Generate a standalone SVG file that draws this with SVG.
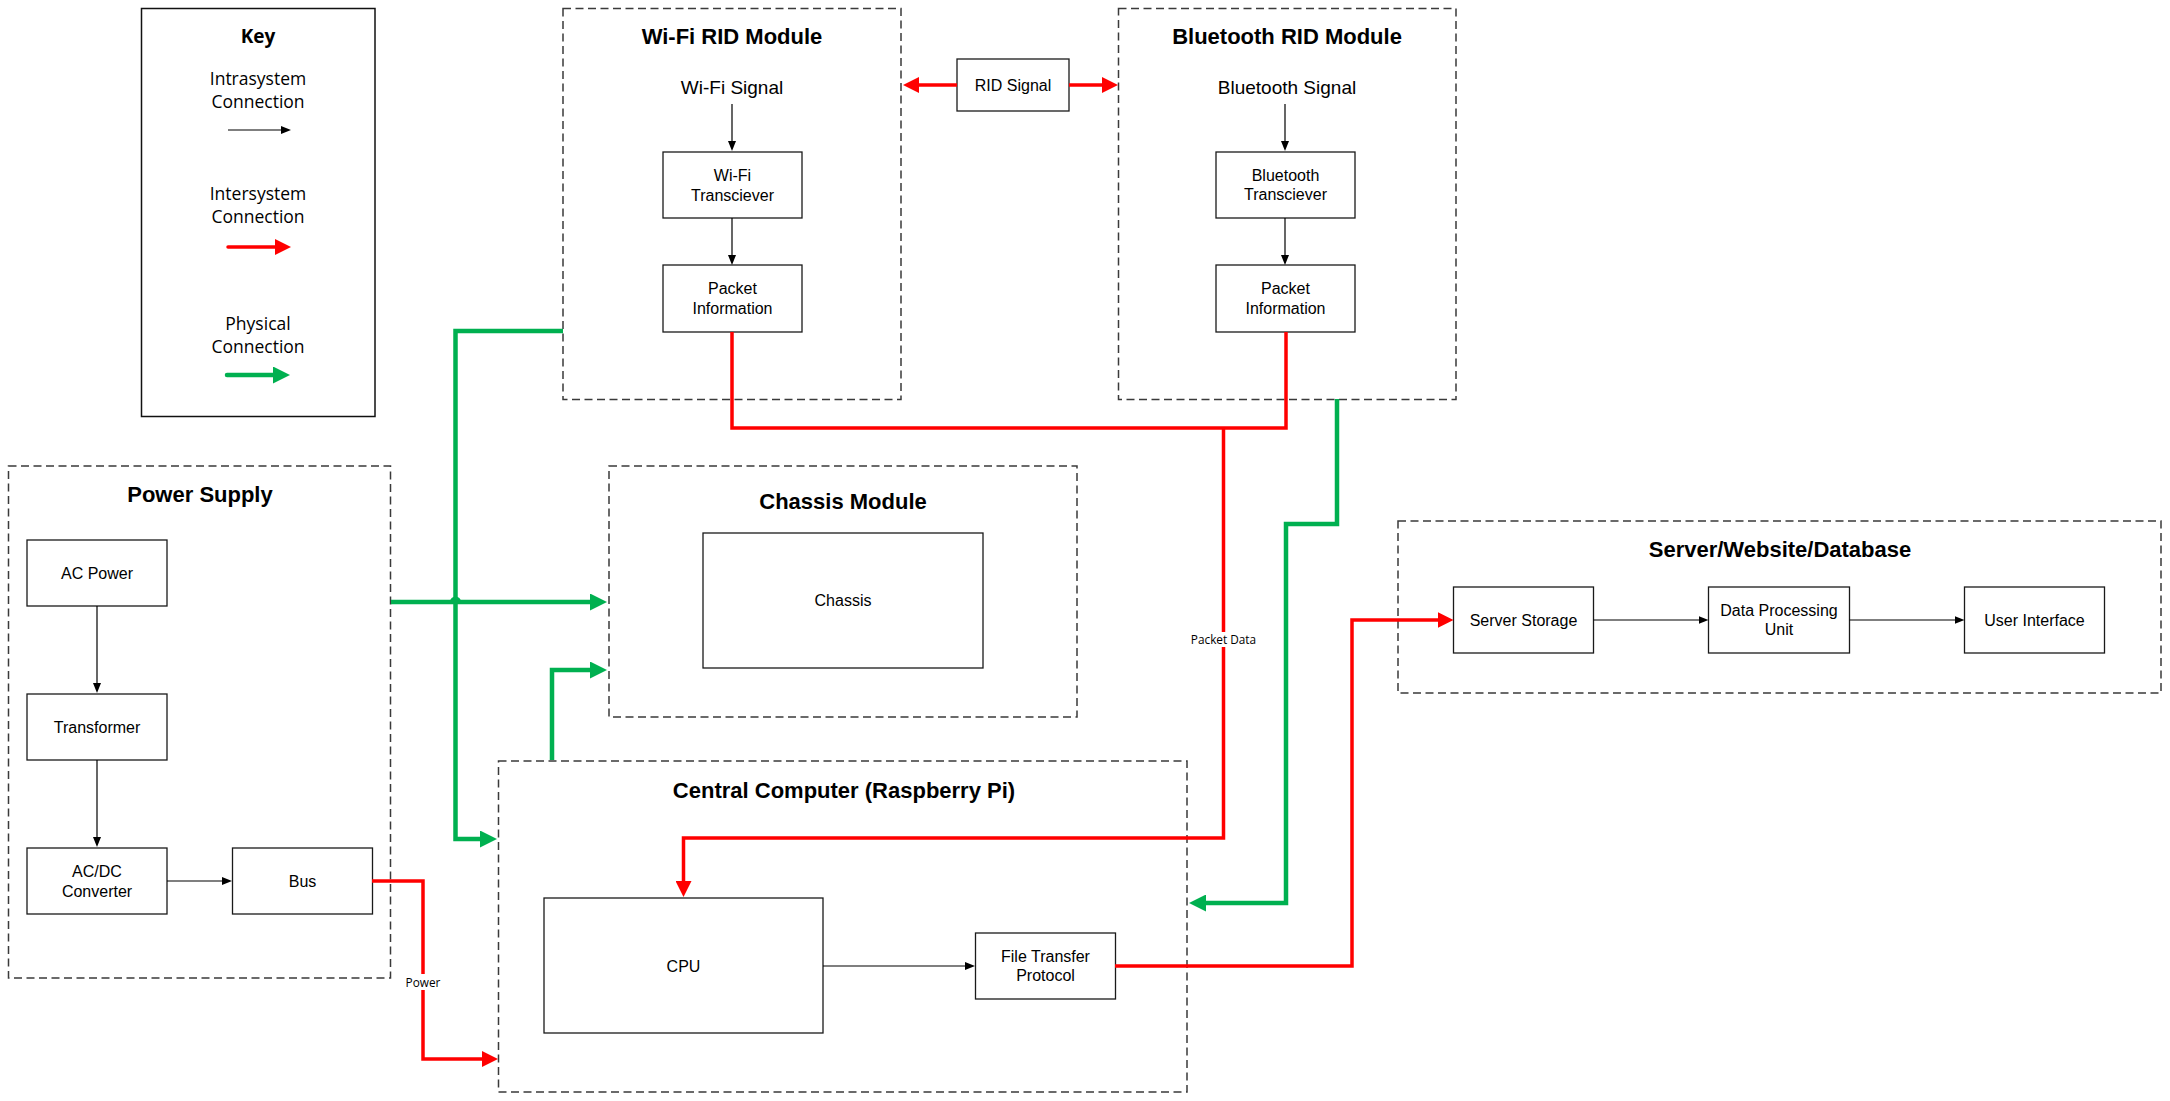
<svg xmlns="http://www.w3.org/2000/svg" width="2170" height="1101" viewBox="0 0 2170 1101">
  <style>
    text { font-family: "Liberation Sans", Arial, sans-serif; fill: #000; text-anchor: middle; dominant-baseline: central; }
    .ttl { font-size: 22px; font-weight: bold; }
    .nd { font-size: 16px; }
    .sig { font-size: 19px; }
    .kt { font-family: "Open Sans", "Noto Sans", sans-serif; font-size: 17.5px; }
    .kh { font-family: "Open Sans", "Noto Sans", sans-serif; font-size: 19px; font-weight: bold; }
    .lbl { font-family: "Open Sans", "Noto Sans", sans-serif; font-size: 11.8px; }
    .box { fill: #fff; stroke: #1a1a1a; stroke-width: 1.3; }
    .grp { fill: none; stroke: #3a3a3a; stroke-width: 1.5; stroke-dasharray: 8 4.5; }
    .blk { fill: none; stroke: #000; stroke-width: 1.2; marker-end: url(#mb); }
    .red { fill: none; stroke: #ff0000; stroke-width: 3.5; stroke-linejoin: miter; }
    .grn { fill: none; stroke: #00b050; stroke-width: 4.5; stroke-linejoin: miter; }
    .ra { marker-end: url(#mr); }
    .ga { marker-end: url(#mg); }
  </style>
  <defs>
    <marker id="mb" markerUnits="userSpaceOnUse" markerWidth="10" markerHeight="8" refX="5" refY="4" orient="auto">
      <path d="M0,0 L10,4 L0,8 z" fill="#000"/>
    </marker>
    <marker id="mr" markerUnits="userSpaceOnUse" markerWidth="16" markerHeight="16" refX="6" refY="8" orient="auto">
      <path d="M0,0 L16,8 L0,16 z" fill="#ff0000"/>
    </marker>
    <marker id="mg" markerUnits="userSpaceOnUse" markerWidth="17" markerHeight="17" refX="7" refY="8.5" orient="auto">
      <path d="M0,0 L17,8.5 L0,17 z" fill="#00b050"/>
    </marker>
  </defs>

  <rect width="2170" height="1101" fill="#fff"/>

  <!-- Legend -->
  <g id="key">
    <rect x="141.5" y="8.5" width="233.5" height="408" fill="#fff" stroke="#111" stroke-width="1.5"/>
    <text class="kh" x="258" y="36">Key</text>
    <text class="kt" x="258" y="78">Intrasystem</text>
    <text class="kt" x="258" y="101">Connection</text>
    <path class="blk" d="M228,130 H286"/>
    <text class="kt" x="258" y="193">Intersystem</text>
    <text class="kt" x="258" y="216">Connection</text>
    <path class="red ra" d="M228,247 H281" stroke-linecap="round"/>
    <text class="kt" x="258" y="323">Physical</text>
    <text class="kt" x="258" y="346">Connection</text>
    <path class="grn ga" d="M227,375 H280" stroke-linecap="round"/>
  </g>

  <!-- Wi-Fi RID Module -->
  <g id="wifi-module">
    <rect class="grp" x="563" y="8.5" width="338" height="391"/>
    <text class="ttl" x="732" y="36">Wi-Fi RID Module</text>
    <text class="sig" x="732" y="87">Wi-Fi Signal</text>
  </g>
  <g id="wifi-transceiver">
    <rect class="box" x="663" y="152" width="139" height="66"/>
    <text class="nd" x="732.5" y="175">Wi-Fi</text>
    <text class="nd" x="732.5" y="195">Transciever</text>
  </g>
  <g id="wifi-packet">
    <rect class="box" x="663" y="265" width="139" height="67"/>
    <text class="nd" x="732.5" y="288">Packet</text>
    <text class="nd" x="732.5" y="308">Information</text>
  </g>

  <!-- RID Signal -->
  <g id="rid-signal">
    <rect class="box" x="957" y="59" width="112" height="52"/>
    <text class="nd" x="1013" y="85">RID Signal</text>
  </g>

  <!-- Bluetooth RID Module -->
  <g id="bt-module">
    <rect class="grp" x="1118.5" y="8.5" width="337.5" height="391"/>
    <text class="ttl" x="1287" y="36">Bluetooth RID Module</text>
    <text class="sig" x="1287" y="87">Bluetooth Signal</text>
  </g>
  <g id="bt-transceiver">
    <rect class="box" x="1216" y="152" width="139" height="66"/>
    <text class="nd" x="1285.5" y="175">Bluetooth</text>
    <text class="nd" x="1285.5" y="194">Transciever</text>
  </g>
  <g id="bt-packet">
    <rect class="box" x="1216" y="265" width="139" height="67"/>
    <text class="nd" x="1285.5" y="288">Packet</text>
    <text class="nd" x="1285.5" y="308">Information</text>
  </g>

  <!-- Power Supply -->
  <g id="power-supply">
    <rect class="grp" x="8.5" y="466" width="382" height="512"/>
    <text class="ttl" x="200" y="494">Power Supply</text>
  </g>
  <g id="ac-power">
    <rect class="box" x="27" y="540" width="140" height="66"/>
    <text class="nd" x="97" y="573">AC Power</text>
  </g>
  <g id="transformer">
    <rect class="box" x="27" y="694" width="140" height="66"/>
    <text class="nd" x="97" y="727">Transformer</text>
  </g>
  <g id="acdc-converter">
    <rect class="box" x="27" y="848" width="140" height="66"/>
    <text class="nd" x="97" y="871">AC/DC</text>
    <text class="nd" x="97" y="891">Converter</text>
  </g>
  <g id="bus">
    <rect class="box" x="232.5" y="848" width="140" height="66"/>
    <text class="nd" x="302.5" y="881">Bus</text>
  </g>

  <!-- Chassis Module -->
  <g id="chassis-module">
    <rect class="grp" x="609" y="466" width="468" height="251"/>
    <text class="ttl" x="843" y="501">Chassis Module</text>
  </g>
  <g id="chassis">
    <rect class="box" x="703" y="533" width="280" height="135"/>
    <text class="nd" x="843" y="600">Chassis</text>
  </g>

  <!-- Central Computer -->
  <g id="central-computer">
    <rect class="grp" x="498.5" y="761" width="688.5" height="331"/>
    <text class="ttl" x="844" y="790">Central Computer (Raspberry Pi)</text>
  </g>
  <g id="cpu">
    <rect class="box" x="544" y="898" width="279" height="135"/>
    <text class="nd" x="683.5" y="966">CPU</text>
  </g>
  <g id="ftp">
    <rect class="box" x="975.5" y="933" width="140" height="66"/>
    <text class="nd" x="1045.5" y="956">File Transfer</text>
    <text class="nd" x="1045.5" y="975">Protocol</text>
  </g>

  <!-- Server / Website / Database -->
  <g id="server">
    <rect class="grp" x="1398" y="521" width="763" height="172"/>
    <text class="ttl" x="1780" y="549">Server/Website/Database</text>
  </g>
  <g id="server-storage">
    <rect class="box" x="1453.5" y="587" width="140" height="66"/>
    <text class="nd" x="1523.5" y="620">Server Storage</text>
  </g>
  <g id="data-processing">
    <rect class="box" x="1708.5" y="587" width="141" height="66"/>
    <text class="nd" x="1779" y="610">Data Processing</text>
    <text class="nd" x="1779" y="629">Unit</text>
  </g>
  <g id="user-interface">
    <rect class="box" x="1964.5" y="587" width="140" height="66"/>
    <text class="nd" x="2034.5" y="620">User Interface</text>
  </g>

  <!-- Connectors -->
  <g id="connectors">
    <!-- intrasystem -->
    <path class="blk" d="M732,104 V146"/>
    <path class="blk" d="M732,218 V260"/>
    <path class="blk" d="M1285,104 V146"/>
    <path class="blk" d="M1285,218 V260"/>
    <path class="blk" d="M97,606 V688"/>
    <path class="blk" d="M97,760 V842"/>
    <path class="blk" d="M167,881 H227"/>
    <path class="blk" d="M823,966 H970"/>
    <path class="blk" d="M1593.5,620 H1703.5"/>
    <path class="blk" d="M1849.5,620 H1959.5"/>

    <!-- intersystem -->
    <path class="red ra" d="M957,85 H913"/>
    <path class="red ra" d="M1069,85 H1108"/>
    <path class="red" d="M732,332 V428 H1286 V332"/>
    <path class="red ra" d="M1223.5,428 V838 H683.5 V887"/>
    <path class="red ra" d="M372,881 H423 V1059 H488"/>
    <path class="red ra" d="M1115,966 H1352 V620 H1443.5"/>

    <!-- physical -->
    <path class="grn ga" d="M563,331 H455.5 V839 H487"/>
    <path class="grn ga" d="M391,602 H597"/>
    <path d="M450,602 A5.5,5.5 0 0 1 461,602 Z" fill="#00b050"/>
    <path class="grn ga" d="M552,760 V670 H597"/>
    <path class="grn ga" d="M1337,399 V524 H1286 V903 H1199"/>

    <!-- labels -->
    <rect x="1202" y="632" width="43" height="15" fill="#fff"/>
    <text class="lbl" x="1223.5" y="639">Packet Data</text>
    <rect x="406" y="974" width="34" height="16" fill="#fff"/>
    <text class="lbl" x="423" y="982">Power</text>
  </g>
</svg>
